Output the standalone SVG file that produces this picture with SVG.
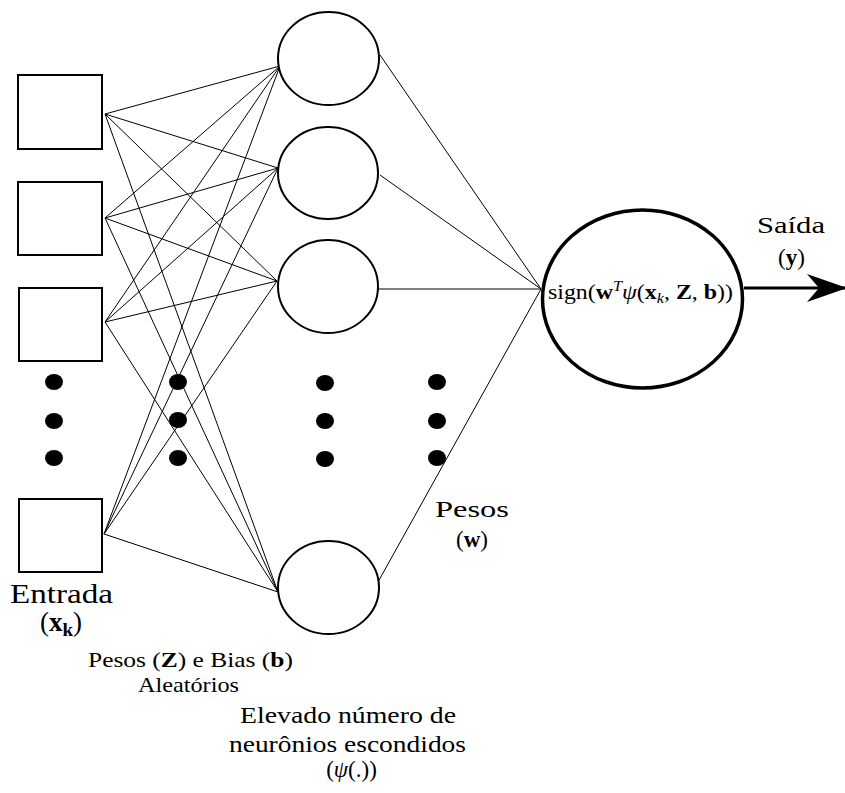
<svg xmlns="http://www.w3.org/2000/svg" width="845" height="793" viewBox="0 0 845 793">
<style>
.sq{fill:#fff;stroke:#000;stroke-width:2}
.hc{fill:#fff;stroke:#000;stroke-width:2}
.oc{fill:#fff;stroke:#000;stroke-width:3.5}
.ln{stroke:#000;stroke-width:1;fill:none}
.dot{fill:#000}
.b{font-weight:bold}
.i{font-style:italic}
</style>
<defs>
<marker id="ah" viewBox="0 0 40 28" refX="38" refY="14" markerWidth="40" markerHeight="28" markerUnits="userSpaceOnUse" orient="auto">
<path d="M0,0 L40,14 L0,28 L12,14 Z" fill="#000"/>
</marker>
</defs>
<g id="connectors">
<line class="ln" x1="105" y1="114" x2="280" y2="66"/>
<line class="ln" x1="105" y1="114" x2="278" y2="168"/>
<line class="ln" x1="105" y1="114" x2="277" y2="281"/>
<line class="ln" x1="105" y1="114" x2="278" y2="592"/>
<line class="ln" x1="105" y1="218" x2="280" y2="66"/>
<line class="ln" x1="105" y1="218" x2="278" y2="168"/>
<line class="ln" x1="105" y1="218" x2="277" y2="281"/>
<line class="ln" x1="105" y1="218" x2="278" y2="592"/>
<line class="ln" x1="105" y1="322" x2="280" y2="66"/>
<line class="ln" x1="105" y1="322" x2="278" y2="168"/>
<line class="ln" x1="105" y1="322" x2="277" y2="281"/>
<line class="ln" x1="105" y1="322" x2="278" y2="592"/>
<line class="ln" x1="104" y1="534" x2="280" y2="66"/>
<line class="ln" x1="104" y1="534" x2="278" y2="168"/>
<line class="ln" x1="104" y1="534" x2="277" y2="281"/>
<line class="ln" x1="104" y1="534" x2="278" y2="592"/>
<line class="ln" x1="380" y1="55" x2="541" y2="289"/>
<line class="ln" x1="380" y1="175" x2="541" y2="289"/>
<line class="ln" x1="378" y1="289" x2="541" y2="289"/>
<line class="ln" x1="378" y1="582" x2="541" y2="289"/>
<line x1="744" y1="288" x2="845" y2="288" stroke="#000" stroke-width="3" marker-end="url(#ah)"/>
</g>
<g id="input1"><rect class="sq" x="18" y="75" width="84" height="74"/></g>
<g id="input2"><rect class="sq" x="18" y="182" width="84" height="73"/></g>
<g id="input3"><rect class="sq" x="19" y="288" width="83" height="73"/></g>
<g id="input4"><rect class="sq" x="19" y="499" width="83" height="73"/></g>
<g id="hidden1"><ellipse class="hc" cx="328.5" cy="58.5" rx="50.5" ry="46.5"/></g>
<g id="hidden2"><ellipse class="hc" cx="328" cy="173" rx="50" ry="46"/></g>
<g id="hidden3"><ellipse class="hc" cx="328" cy="286.5" rx="50" ry="46.5"/></g>
<g id="hidden4"><ellipse class="hc" cx="328.5" cy="587.5" rx="50.5" ry="46.5"/></g>
<g id="dots">
<ellipse class="dot" cx="54" cy="382" rx="9" ry="8"/>
<ellipse class="dot" cx="54" cy="421" rx="9" ry="8"/>
<ellipse class="dot" cx="54" cy="458" rx="9" ry="8"/>
<ellipse class="dot" cx="178" cy="382" rx="9" ry="8"/>
<ellipse class="dot" cx="178" cy="420" rx="9" ry="8"/>
<ellipse class="dot" cx="178" cy="458" rx="9" ry="8"/>
<ellipse class="dot" cx="325" cy="383" rx="9" ry="8"/>
<ellipse class="dot" cx="325" cy="421" rx="9" ry="8"/>
<ellipse class="dot" cx="325" cy="459" rx="9" ry="8"/>
<ellipse class="dot" cx="437" cy="382" rx="9" ry="8"/>
<ellipse class="dot" cx="437" cy="421" rx="9" ry="8"/>
<ellipse class="dot" cx="437" cy="458" rx="9" ry="8"/>
</g>
<g id="output">
<ellipse class="oc" cx="642.5" cy="299" rx="100" ry="89"/>
<text font-family="Liberation Serif" x="548" y="299" font-size="22" textLength="185" lengthAdjust="spacingAndGlyphs">sign(<tspan class="b">w</tspan><tspan class="i" font-size="15" dy="-8">T</tspan><tspan class="i" dy="8">ψ</tspan>(<tspan class="b">x</tspan><tspan class="i" font-size="15" dy="4">k</tspan><tspan dy="-4">, </tspan><tspan class="b">Z</tspan>, <tspan class="b">b</tspan>))</text>
</g>
<g id="labels">
<text font-family="Liberation Serif" x="61.5" y="603" font-size="27" text-anchor="middle" textLength="103" lengthAdjust="spacingAndGlyphs">Entrada</text>
<text font-family="Liberation Serif" x="61" y="631" font-size="27" text-anchor="middle">(<tspan class="b">x</tspan><tspan class="b" font-size="19" dy="5">k</tspan><tspan dy="-5">)</tspan></text>
<text font-family="Liberation Serif" x="190.5" y="667" font-size="22" text-anchor="middle" textLength="205" lengthAdjust="spacingAndGlyphs">Pesos (<tspan class="b">Z</tspan>) e Bias (<tspan class="b">b</tspan>)</text>
<text font-family="Liberation Serif" x="188.5" y="692" font-size="22" text-anchor="middle" textLength="101" lengthAdjust="spacingAndGlyphs">Aleatórios</text>
<text font-family="Liberation Serif" x="348" y="723" font-size="23" text-anchor="middle" textLength="216" lengthAdjust="spacingAndGlyphs">Elevado número de</text>
<text font-family="Liberation Serif" x="347.5" y="752" font-size="23" text-anchor="middle" textLength="237" lengthAdjust="spacingAndGlyphs">neurônios escondidos</text>
<text font-family="Liberation Serif" x="351.5" y="777" font-size="23" text-anchor="middle">(<tspan class="i">ψ</tspan>(.))</text>
<text font-family="Liberation Serif" x="472" y="517" font-size="23" text-anchor="middle" textLength="74" lengthAdjust="spacingAndGlyphs">Pesos</text>
<text font-family="Liberation Serif" x="472" y="547" font-size="23" text-anchor="middle">(<tspan class="b">w</tspan>)</text>
<text font-family="Liberation Serif" x="791" y="233" font-size="23" text-anchor="middle" textLength="68" lengthAdjust="spacingAndGlyphs">Saída</text>
<text font-family="Liberation Serif" x="791.5" y="265" font-size="23" text-anchor="middle">(<tspan class="b">y</tspan>)</text>
</g>
</svg>
